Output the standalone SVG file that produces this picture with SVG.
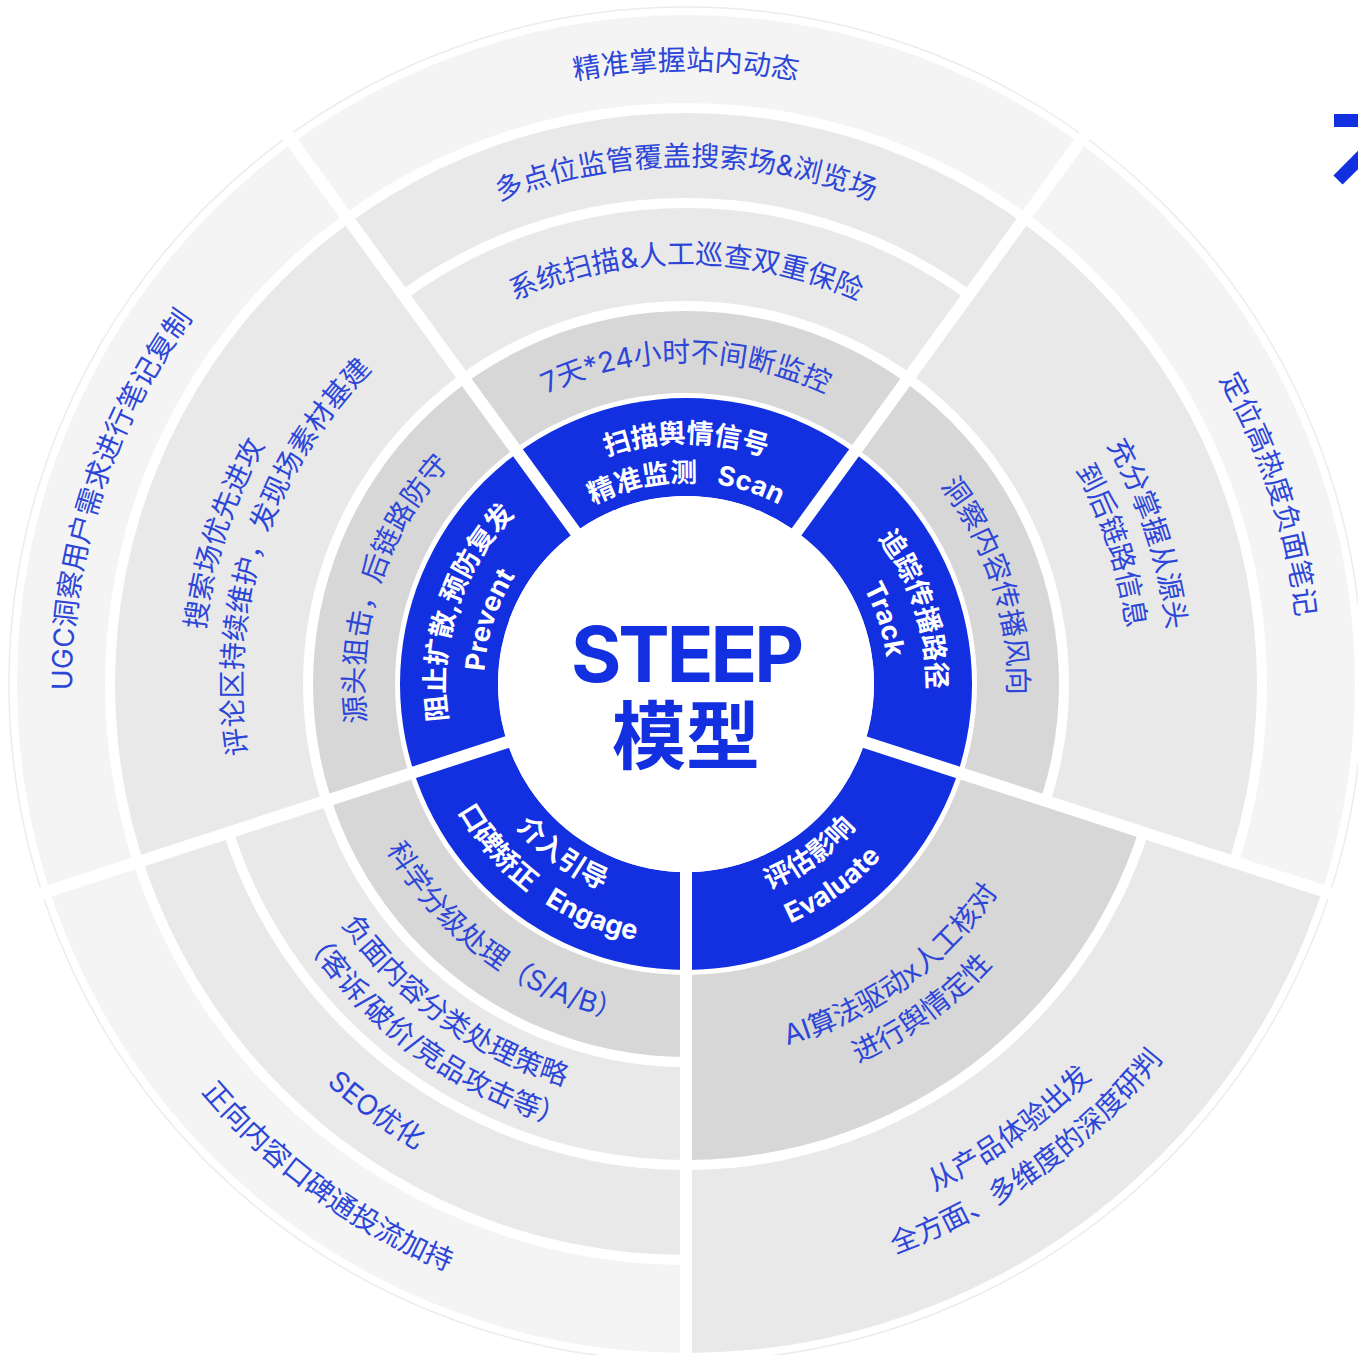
<svg xmlns="http://www.w3.org/2000/svg" xmlns:xlink="http://www.w3.org/1999/xlink" width="1358" height="1355" viewBox="0 0 1358 1355">
<style>
.g{font-family:Inter,'Noto Sans CJK SC',sans-serif;font-size:28px;fill:#2c46d8;text-anchor:middle}
.w{font-family:Inter,'Noto Sans CJK SC',sans-serif;font-size:27px;font-weight:700;fill:#fff;text-anchor:middle}
.ra{fill:#d7d7d7}.rb{fill:#e9e9e9}.rd{fill:#f4f4f4}.bl{fill:#1230e0}.wh{fill:#fff}
.gap{stroke:#fff;stroke-width:12}
</style>
<defs>
<clipPath id="cScan"><polygon points="686,684 39.4,-205.9 686,-416 1332.6,-205.9"/></clipPath>
<clipPath id="cTrack"><polygon points="686,684 1332.6,-205.9 1732.2,344.1 1732.2,1023.9"/></clipPath>
<clipPath id="cEval"><polygon points="686,684 1732.2,1023.9 1332.6,1573.9 686,1784"/></clipPath>
<clipPath id="cEng"><polygon points="686,684 686,1784 39.4,1573.9 -360.2,1023.9"/></clipPath>
<clipPath id="cPrev"><polygon points="686,684 -360.2,1023.9 -360.2,344.1 39.4,-205.9"/></clipPath>
<path id="t614" d="M72 684A614 614 0 0 1 1300 684"/>
<path id="t518" d="M168 684A518 518 0 0 1 1204 684"/>
<path id="t420" d="M266 684A420 420 0 0 1 1106 684"/>
<path id="t322" d="M364 684A322 322 0 0 1 1008 684"/>
<path id="t484" d="M202 684A484 484 0 0 1 1170 684"/>
<path id="t444" d="M242 684A444 444 0 0 1 1130 684"/>
<path id="t241" d="M445 684A241 241 0 0 1 927 684"/>
<path id="t202" d="M484 684A202 202 0 0 1 888 684"/>
<path id="b634" d="M52 684A634 634 0 0 0 1320 684"/>
<path id="b538" d="M148 684A538 538 0 0 0 1224 684"/>
<path id="b420" d="M266 684A420 420 0 0 0 1106 684"/>
<path id="b460" d="M226 684A460 460 0 0 0 1146 684"/>
<path id="b342" d="M344 684A342 342 0 0 0 1028 684"/>
<path id="b375" d="M311 684A375 375 0 0 0 1061 684"/>
<path id="b416" d="M270 684A416 416 0 0 0 1102 684"/>
<path id="b565" d="M121 684A565 565 0 0 0 1251 684"/>
<path id="b607" d="M79 684A607 607 0 0 0 1293 684"/>
<path id="b222" d="M464 684A222 222 0 0 0 908 684"/>
<path id="b261" d="M425 684A261 261 0 0 0 947 684"/>
</defs>
<rect width="1358" height="1355" fill="#fff"/>
<circle id="rim" cx="686" cy="684" r="677" fill="none" stroke="#ececec" stroke-width="1.5"/>

<g id="scan">
<g clip-path="url(#cScan)">
<circle cx="686" cy="684" r="669" class="rd"/><circle cx="686" cy="684" r="581" class="wh"/>
<circle cx="686" cy="684" r="571" class="rb"/><circle cx="686" cy="684" r="486" class="wh"/>
<circle cx="686" cy="684" r="476" class="rb"/><circle cx="686" cy="684" r="383" class="wh"/>
<circle cx="686" cy="684" r="373" class="ra"/><circle cx="686" cy="684" r="291" class="wh"/>
<circle cx="686" cy="684" r="286" class="bl"/><circle cx="686" cy="684" r="188" class="wh"/>
</g>
<text class="g"><textPath href="#t614" startOffset="50%">精准掌握站内动态</textPath></text>
<text class="g"><textPath href="#t518" startOffset="50%">多点位监管覆盖搜索场&amp;浏览场</textPath></text>
<text class="g"><textPath href="#t420" startOffset="50%">系统扫描&amp;人工巡查双重保险</textPath></text>
<text class="g"><textPath href="#t322" startOffset="50%">7天*24小时不间断监控</textPath></text>
<text class="w"><textPath href="#t241" startOffset="50%">扫描舆情信号</textPath></text>
<text class="w"><textPath href="#t202" startOffset="50%">精准监测&#160;&#160;&#160;Scan</textPath></text>
</g>

<g id="track">
<g clip-path="url(#cTrack)">
<circle cx="686" cy="684" r="669" class="rd"/><circle cx="686" cy="684" r="581" class="wh"/>
<circle cx="686" cy="684" r="571" class="rb"/><circle cx="686" cy="684" r="383" class="wh"/>
<circle cx="686" cy="684" r="373" class="ra"/><circle cx="686" cy="684" r="291" class="wh"/>
<circle cx="686" cy="684" r="286" class="bl"/><circle cx="686" cy="684" r="188" class="wh"/>
</g>
<g transform="rotate(72 686 684)">
<text class="g"><textPath href="#t614" startOffset="50%">定位高热度负面笔记</textPath></text>
<text class="g"><textPath href="#t484" startOffset="50%">充分掌握从源头</textPath></text>
<text class="g"><textPath href="#t444" startOffset="50%">到后链路信息</textPath></text>
<text class="g"><textPath href="#t322" startOffset="50%">洞察内容传播风向</textPath></text>
<text class="w"><textPath href="#t241" startOffset="50%">追踪传播路径</textPath></text>
<text class="w"><textPath href="#t202" startOffset="50%">Track</textPath></text>
</g>
</g>

<g id="evaluate">
<g clip-path="url(#cEval)">
<circle cx="686" cy="684" r="669" class="rb"/><circle cx="686" cy="684" r="486" class="wh"/>
<circle cx="686" cy="684" r="476" class="ra"/><circle cx="686" cy="684" r="291" class="wh"/>
<circle cx="686" cy="684" r="286" class="bl"/><circle cx="686" cy="684" r="188" class="wh"/>
</g>
<g transform="rotate(-36 686 684)">
<text class="g"><textPath href="#b565" startOffset="50%">从产品体验出发</textPath></text>
<text class="g"><textPath href="#b607" startOffset="50%">全方面、多维度的深度研判</textPath></text>
<text class="g"><textPath href="#b375" startOffset="50%">AI算法驱动x人工核对</textPath></text>
<text class="g"><textPath href="#b416" startOffset="50%">进行舆情定性</textPath></text>
<text class="w"><textPath href="#b222" startOffset="50%">评估影响</textPath></text>
<text class="w"><textPath href="#b261" startOffset="50%">Evaluate</textPath></text>
</g>
</g>

<g id="engage">
<g clip-path="url(#cEng)">
<circle cx="686" cy="684" r="669" class="rd"/><circle cx="686" cy="684" r="581" class="wh"/>
<circle cx="686" cy="684" r="571" class="rb"/><circle cx="686" cy="684" r="486" class="wh"/>
<circle cx="686" cy="684" r="476" class="rb"/><circle cx="686" cy="684" r="383" class="wh"/>
<circle cx="686" cy="684" r="373" class="ra"/><circle cx="686" cy="684" r="291" class="wh"/>
<circle cx="686" cy="684" r="286" class="bl"/><circle cx="686" cy="684" r="188" class="wh"/>
</g>
<g transform="rotate(36 686 684)">
<text class="g"><textPath href="#b634" startOffset="50%">正向内容口碑通投流加持</textPath></text>
<text class="g"><textPath href="#b538" startOffset="50%">SEO优化</textPath></text>
<text class="g"><textPath href="#b420" startOffset="50%">负面内容分类处理策略</textPath></text>
<text class="g"><textPath href="#b460" startOffset="50%">（客诉/破价/竞品攻击等）</textPath></text>
<text class="g"><textPath href="#b342" startOffset="50%">科学分级处理（S/A/B）</textPath></text>
<text class="w"><textPath href="#b222" startOffset="50%">介入引导</textPath></text>
<text class="w"><textPath href="#b261" startOffset="50%">口碑矫正&#160;&#160;&#160;Engage</textPath></text>
</g>
</g>

<g id="prevent">
<g clip-path="url(#cPrev)">
<circle cx="686" cy="684" r="669" class="rd"/><circle cx="686" cy="684" r="581" class="wh"/>
<circle cx="686" cy="684" r="571" class="rb"/><circle cx="686" cy="684" r="383" class="wh"/>
<circle cx="686" cy="684" r="373" class="ra"/><circle cx="686" cy="684" r="291" class="wh"/>
<circle cx="686" cy="684" r="286" class="bl"/><circle cx="686" cy="684" r="188" class="wh"/>
</g>
<g transform="rotate(-72 686 684)">
<text class="g"><textPath href="#t614" startOffset="50%">UGC洞察用户需求进行笔记复制</textPath></text>
<text class="g"><textPath href="#t484" startOffset="50%">搜索场优先进攻</textPath></text>
<text class="g"><textPath href="#t444" startOffset="50%">评论区持续维护，发现场素材基建</textPath></text>
<text class="g"><textPath href="#t322" startOffset="50%">源头狙击，后链路防守</textPath></text>
<text class="w"><textPath href="#t241" startOffset="50%">阻止扩散,预防复发</textPath></text>
<text class="w"><textPath href="#t202" startOffset="50%">Prevent</textPath></text>
</g>
</g>

<g id="dividers">
<line x1="686" y1="684" x2="1342.2" y2="897.2" class="gap"/>
<line x1="686" y1="684" x2="686" y2="1374" class="gap"/>
<line x1="686" y1="684" x2="29.8" y2="897.2" class="gap"/>
<line x1="686" y1="684" x2="280.4" y2="125.8" class="gap"/>
<line x1="686" y1="684" x2="1091.6" y2="125.8" class="gap"/>
</g>

<g id="center">
<circle cx="686" cy="684" r="188" fill="#fff"/>
<text x="686" y="682" font-family="Inter,'Noto Sans CJK SC',sans-serif" font-size="77" font-weight="700" letter-spacing="-3" fill="#1230e0" text-anchor="middle">STEEP</text>
<text x="686" y="763" font-family="'Noto Sans CJK SC',sans-serif" font-size="74" font-weight="700" fill="#1230e0" text-anchor="middle">模型</text>
</g>

<g id="edge-fragment" fill="#1230e0">
<rect x="1334" y="114" width="30" height="13"/>
<line x1="1338" y1="180" x2="1366" y2="152" stroke="#1230e0" stroke-width="13"/>
</g>
</svg>
